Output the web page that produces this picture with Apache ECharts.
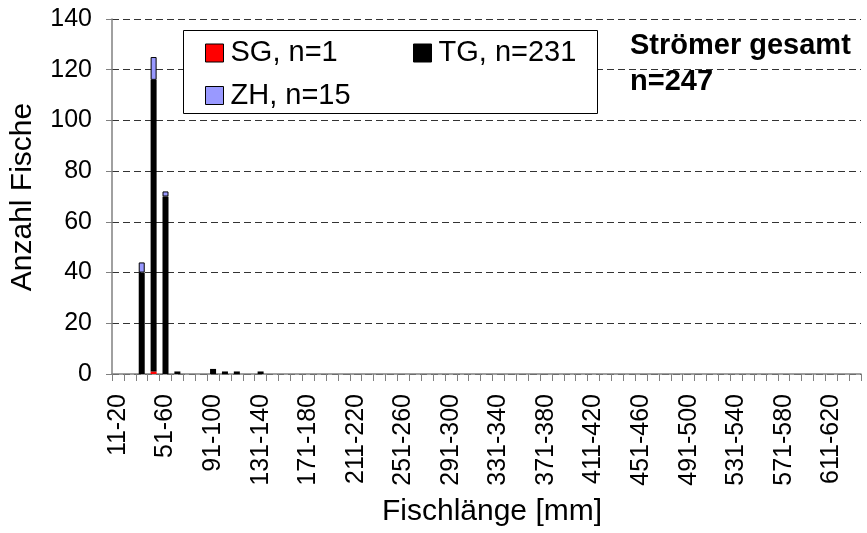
<!DOCTYPE html>
<html>
<head>
<meta charset="utf-8">
<script src="https://cdn.jsdelivr.net/npm/echarts@6/dist/echarts.min.js"></script>
<style>
  html, body { margin: 0; padding: 0; background: #fff; }
  #chart { width: 867px; height: 533px; }
</style>
</head>
<body>
<div id="chart"></div>
<script>
// Length classes (mm)
const lengthClasses = [
  '11-20','21-30','31-40','41-50','51-60','61-70','71-80','81-90','91-100','101-110',
  '111-120','121-130','131-140','141-150','151-160','161-170','171-180','181-190','191-200','201-210',
  '211-220','221-230','231-240','241-250','251-260','261-270','271-280','281-290','291-300','301-310',
  '311-320','321-330','331-340','341-350','351-360','361-370','371-380','381-390','391-400','401-410',
  '411-420','421-430','431-440','441-450','451-460','461-470','471-480','481-490','491-500','501-510',
  '511-520','521-530','531-540','541-550','551-560','561-570','571-580','581-590','591-600','601-610',
  '611-620','621-630','631-640'
];

// Fish counts per length class and canton
const countsSG = [0,0,0,1,0,0,0,0,0,0, 0,0,0,0,0,0,0,0,0,0, 0,0,0,0,0,0,0,0,0,0, 0,0,0,0,0,0,0,0,0,0, 0,0,0,0,0,0,0,0,0,0, 0,0,0,0,0,0,0,0,0,0, 0,0,0];
const countsTG = [0,0,40,115,70,1,0,0,2,1, 1,0,1,0,0,0,0,0,0,0, 0,0,0,0,0,0,0,0,0,0, 0,0,0,0,0,0,0,0,0,0, 0,0,0,0,0,0,0,0,0,0, 0,0,0,0,0,0,0,0,0,0, 0,0,0];
const countsZH = [0,0,4,9,2,0,0,0,0,0, 0,0,0,0,0,0,0,0,0,0, 0,0,0,0,0,0,0,0,0,0, 0,0,0,0,0,0,0,0,0,0, 0,0,0,0,0,0,0,0,0,0, 0,0,0,0,0,0,0,0,0,0, 0,0,0];

const seriesNames = ['SG, n=1', 'TG, n=231', 'ZH, n=15'];
const yTicks = { min: 0, max: 140, step: 20 };

const FONT = '"Liberation Sans", Arial, sans-serif';
const chart = echarts.init(document.getElementById('chart'), null, { renderer: 'canvas' });

// empty classes are left out instead of drawing zero-height bars
const nz = arr => arr.map(v => (v === 0 ? '-' : v));

const legendBase = {
  orient: 'horizontal',
  padding: 0,
  itemWidth: 18,
  itemHeight: 18,
  itemGap: 6,
  icon: 'rect',
  z: 10,
  selectedMode: false,
  itemStyle: { borderColor: '#000', borderWidth: 1 },
  textStyle: { fontFamily: FONT, fontSize: 29, color: '#000', padding: [0, 0, 0, 2] }
};

chart.setOption({
  animation: false,
  backgroundColor: '#fff',
  grid: { left: 112, right: 6, top: 19, bottom: 159, containLabel: false },
  legend: [
    Object.assign({}, legendBase, { data: [seriesNames[0]], left: 205, top: 38.5 }),
    Object.assign({}, legendBase, { data: [seriesNames[1]], left: 413, top: 38.5 }),
    Object.assign({}, legendBase, { data: [seriesNames[2]], left: 205, top: 81 })
  ],
  xAxis: {
    type: 'category',
    data: lengthClasses,
    boundaryGap: true,
    axisLine: { show: true, lineStyle: { color: '#808080', width: 1.5 } },
    axisTick: { show: true, interval: 0, length: 7, lineStyle: { color: '#808080', width: 1 } },
    axisLabel: {
      interval: 3,
      rotate: 90,
      margin: 20,
      fontFamily: FONT,
      fontSize: 25,
      color: '#000'
    },
    splitLine: { show: false }
  },
  yAxis: {
    type: 'value',
    min: yTicks.min,
    max: yTicks.max,
    interval: yTicks.step,
    axisLine: { show: true, lineStyle: { color: '#808080', width: 1.5 } },
    axisTick: { show: true, inside: false, length: 6, lineStyle: { color: '#808080', width: 1 } },
    axisLabel: { margin: 20, fontFamily: FONT, fontSize: 25, color: '#000' },
    splitLine: { show: true, lineStyle: { color: '#333', width: 1, type: [7, 4] } }
  },
  series: [
    {
      name: seriesNames[0], type: 'bar', stack: 'all', barWidth: 6,
      itemStyle: { color: '#FF0000' },
      data: nz(countsSG)
    },
    {
      name: seriesNames[1], type: 'bar', stack: 'all', barWidth: 6,
      itemStyle: { color: '#000000' },
      data: nz(countsTG)
    },
    {
      name: seriesNames[2], type: 'bar', stack: 'all', barWidth: 6,
      itemStyle: { color: '#9999FF', borderColor: '#000', borderWidth: 1 },
      data: nz(countsZH)
    }
  ],
  graphic: [
    {
      type: 'rect', z: 5,
      shape: { x: 183.5, y: 30.5, width: 414, height: 83 },
      style: { fill: '#fff', stroke: '#000', lineWidth: 1 }
    },
    {
      type: 'text', z: 5, x: 630, y: 46,
      style: { text: 'Strömer gesamt', font: 'bold 29px ' + FONT, fill: '#000', textAlign: 'left', textVerticalAlign: 'middle' }
    },
    {
      type: 'text', z: 5, x: 630, y: 82,
      style: { text: 'n=247', font: 'bold 29px ' + FONT, fill: '#000', textAlign: 'left', textVerticalAlign: 'middle' }
    },
    {
      type: 'text', z: 5, x: 23, y: 197, rotation: Math.PI / 2,
      style: { text: 'Anzahl Fische', font: '30px ' + FONT, fill: '#000', textAlign: 'center', textVerticalAlign: 'middle' }
    },
    {
      type: 'text', z: 5, x: 492, y: 512,
      style: { text: 'Fischlänge [mm]', font: '30px ' + FONT, fill: '#000', textAlign: 'center', textVerticalAlign: 'middle' }
    }
  ]
});
</script>
</body>
</html>
